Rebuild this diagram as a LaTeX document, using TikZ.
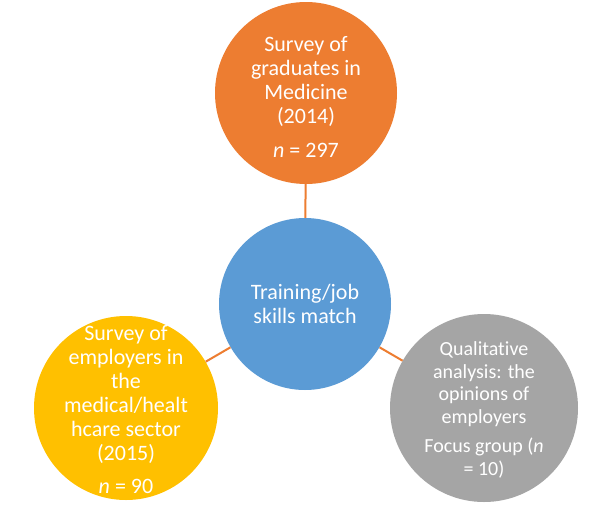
\documentclass[tikz,border=0pt]{standalone}
\usepackage{fontspec}
\setmainfont[Ligatures=CommonOff]{Carlito}
\definecolor{orangeC}{HTML}{ED7D31}
\definecolor{blueC}{HTML}{5B9BD5}
\definecolor{yellowC}{HTML}{FFC000}
\definecolor{grayC}{HTML}{A5A5A5}
\begin{document}
\begin{tikzpicture}[x=1pt,y=-1pt,
  blob/.style={circle, inner sep=0pt, minimum size=#1},
  lbl/.style={text=white, align=center, inner sep=0pt, font=\fontsize{22}{24}\selectfont},
  lblsmall/.style={text=white, align=center, inner sep=0pt, font=\fontsize{20}{22.5}\selectfont},
  link/.style={draw=orangeC, line width=2pt}]
\useasboundingbox[fill=white] (0,0) rectangle (600,509);
\node[blob=182pt, fill=orangeC] (top) at (306,93) {};
\node[blob=172pt, fill=blueC] (mid) at (305,304) {};
\node[blob=184pt, fill=yellowC] (left) at (126,408) {};
\node[blob=188pt, fill=grayC] (right) at (484,408) {};
\draw[link] (top) -- (mid);
\draw[link] (left) -- (mid);
\draw[link] (right) -- (mid);
\node[lbl] (toptext) at (306,97) {Survey of\\graduates in\\Medicine\\(2014)\\[10pt]\textit{n} = 297};
\node[lbl] (midtext) at (305,304) {Training/job\\skills match};
\node[lbl] (lefttext) at (126,410) {Survey of\\employers in\\the\\medical/healt\\hcare sector\\(2015)\\[9pt]\textit{n} = 90};
\node[lblsmall] (righttext) at (484,410) {Qualitative\\analysis: the\\opinions of\\employers\\[7pt]Focus group (\textit{n}\\= 10)};
\end{tikzpicture}
\end{document}
